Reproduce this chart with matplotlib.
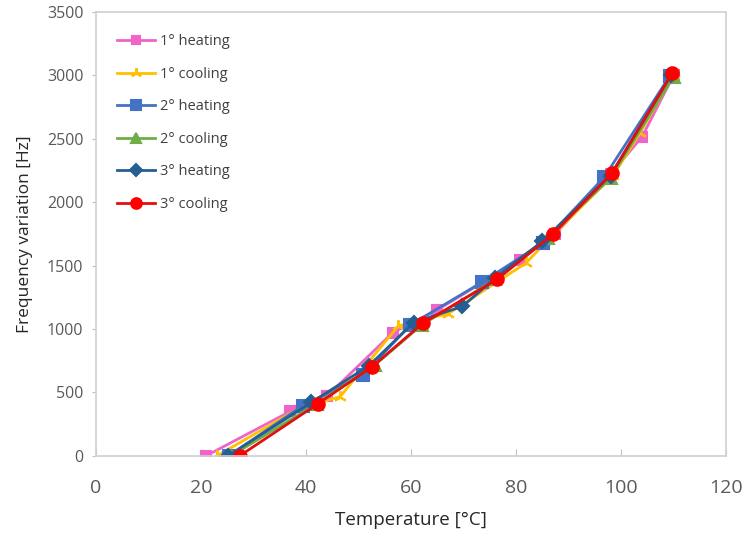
import matplotlib
matplotlib.use("Agg")
import matplotlib.pyplot as plt

# temperature [°C] / frequency variation [Hz] for each thermal cycle
t_heat1 = [21.0, 37.0, 44.0, 56.5, 65.0, 80.8, 87.5, 98.0, 104.0, 110.0]
f_heat1 = [0, 350, 470, 970, 1150, 1545, 1750, 2220, 2515, 3000]

t_cool1 = [23.1, 38.5, 46.5, 57.6, 67.1, 81.9, 87.0, 98.5, 103.6, 110.0]
f_cool1 = [0, 370, 466, 1025, 1120, 1520, 1740, 2210, 2545, 3000]

t_heat2 = [25.3, 39.4, 50.9, 59.8, 73.5, 85.1, 96.8, 109.3]
f_heat2 = [0, 395, 637, 1030, 1368, 1678, 2197, 2995]

t_cool2 = [25.8, 42.0, 53.1, 62.0, 76.0, 86.0, 98.0, 110.0]
f_cool2 = [0, 410, 715, 1030, 1390, 1720, 2190, 2990]

t_heat3 = [25.2, 41.0, 52.0, 60.5, 69.8, 76.0, 85.0, 98.0, 109.5]
f_heat3 = [0, 420, 710, 1050, 1178, 1400, 1690, 2210, 3000]

t_cool3 = [27.4, 42.2, 52.6, 62.2, 76.4, 87.1, 98.3, 109.8]
f_cool3 = [0, 408, 702, 1044, 1391, 1749, 2230, 3021]

labels = ["1° heating", "1° cooling", "2° heating", "2° cooling", "3° heating", "3° cooling"]

x_ticks = [0, 20, 40, 60, 80, 100, 120]
y_ticks = [0, 500, 1000, 1500, 2000, 2500, 3000, 3500]

plt.rcParams["font.family"] = ["Open Sans", "DejaVu Sans"]
txt = "#595959"

fig = plt.figure(figsize=(7.45, 5.35), dpi=100)
ax = fig.add_axes([0.1289, 0.1482, 0.8456, 0.8294])

series = [
    (t_heat1, f_heat1, "#F064C8", "s", 7, "#F064C8"),
    (t_cool1, f_cool1, "#FFC000", (3, 2, 0), 9, "#FFC000"),
    (t_heat2, f_heat2, "#4472C4", "s", 9, "#4472C4"),
    (t_cool2, f_cool2, "#70AD47", "^", 9, "#70AD47"),
    (t_heat3, f_heat3, "#255E91", "D", 7, "#255E91"),
    (t_cool3, f_cool3, "#E01010", "o", 9, "#FF0000"),
]
for (t, f, col, mk, ms, mcol), lab in zip(series, labels):
    ax.plot(t, f, color=col, lw=2, marker=mk, ms=ms, mfc=mcol, mec=mcol,
            mew=1.5, label=lab)

ax.set_xlim(0, 120)
ax.set_ylim(0, 3500)
ax.set_xticks(x_ticks)
ax.set_yticks(y_ticks)
for s in ax.spines.values():
    s.set_color("#D0D0D0")
    s.set_linewidth(1.2)
ax.tick_params(axis="x", direction="in", length=5, color="#C0C0C0",
               labelsize=14, labelcolor=txt, pad=17)
ax.tick_params(axis="y", direction="out", length=3, color="#C0C0C0",
               labelsize=11.5, labelcolor=txt, pad=6)

ax.set_xlabel("Temperature [°C]", fontsize=13.5, color="#262626", labelpad=10)
ax.set_ylabel("Frequency variation [Hz]", fontsize=12.5, color="#262626", labelpad=10)

leg = ax.legend(loc="upper left", bbox_to_anchor=(0.02, 0.969), frameon=False,
                fontsize=10.5, handlelength=2.6, labelspacing=1.2,
                handletextpad=0.3, borderaxespad=0.2, markerscale=0.85)
for t in leg.get_texts():
    t.set_color("#404040")

fig.savefig("out.png", dpi=100)
